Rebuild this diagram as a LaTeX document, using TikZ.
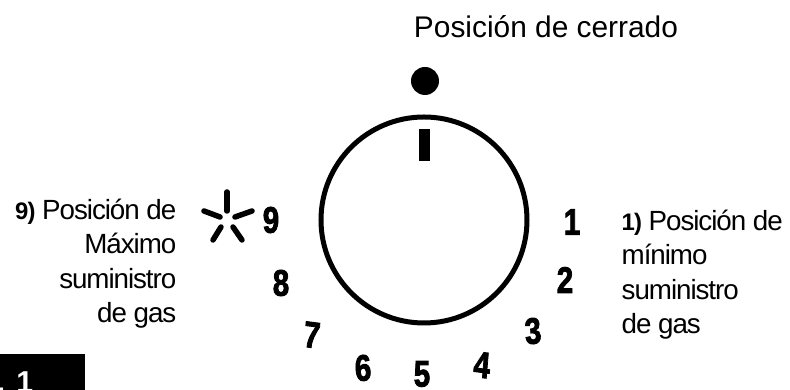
\documentclass[tikz,border=0pt]{standalone}
\usepackage{fontspec}
\setmainfont{Liberation Sans}
\newfontfamily\dialfont[FakeBold=2.5]{Liberation Sans Bold}
\newfontfamily\capfont[LetterSpace=-3.8]{Liberation Sans}
\usetikzlibrary{positioning}
\tikzset{
  dialnum/.style={font=\dialfont\fontsize{10.5}{11}\selectfont,xscale=0.8,inner sep=0pt},
  caption/.style={font=\capfont\fontsize{7.9}{9.8}\selectfont,inner sep=0pt},
  ray/.style={line width=0.055cm,line cap=round}
}
\newcommand{\numlabel}[1]{{\bfseries\fontsize{6.8}{9.8}\selectfont #1}}
\begin{document}
\begin{tikzpicture}[font=\scriptsize]
  \useasboundingbox (0,0) rectangle (7.9,3.9);
  % dial
  \draw[line width=0.05cm] (4.24,1.70) circle (1.03);
  \fill (4.25,3.09) circle (0.14);
  \fill (4.19,2.29) rectangle (4.30,2.61);
  % closed position
  \node[inner sep=0pt,font=\fontsize{8.5}{10}\selectfont] (closed) at (5.46,3.63) {Posición de cerrado};
  % numbers
  \node[dialnum] (n1) at (5.72,1.68) {1};
  \node[dialnum] (n2) at (5.65,1.10) {2};
  \node[dialnum,rotate=5] (n3) at (5.33,0.59) {3};
  \node[dialnum,rotate=-6] (n4) at (4.82,0.25) {4};
  \node[dialnum] (n5) at (4.22,0.16) {5};
  \node[dialnum,rotate=4] (n6) at (3.63,0.22) {6};
  \node[dialnum,rotate=-6] (n7) at (3.12,0.55) {7};
  \node[dialnum] (n8) at (2.81,1.07) {8};
  \node[dialnum] (n9) at (2.71,1.70) {9};
  % maximum flame
  \draw[ray] (2.27,1.98) -- (2.27,1.79);
  \draw[ray] (2.04,1.79) -- (2.20,1.73);
  \draw[ray] (2.52,1.79) -- (2.35,1.73);
  \draw[ray] (2.13,1.50) -- (2.21,1.63);
  \draw[ray] (2.42,1.50) -- (2.33,1.63);
  % side texts
  \node[caption,align=right,anchor=north east] (maxtext) at (1.77,1.92)
    {\numlabel{9)} Posición de\\Máximo\\suministro\\de gas};
  \node[caption,align=left,anchor=north west] (mintext) at (6.21,1.81)
    {\numlabel{1)} Posición de\\mínimo\\suministro\\de gas};
  % figure tag
  \begin{scope}
    \clip (0,0) rectangle (0.85,0.36);
    \fill (0,0) rectangle (0.85,0.36);
    \node[anchor=base east,text=white,inner sep=0pt,font=\bfseries\fontsize{8.6}{10}\selectfont] (figtag) at (0.34,-0.03) {Fig. 1};
  \end{scope}
\end{tikzpicture}
\end{document}
